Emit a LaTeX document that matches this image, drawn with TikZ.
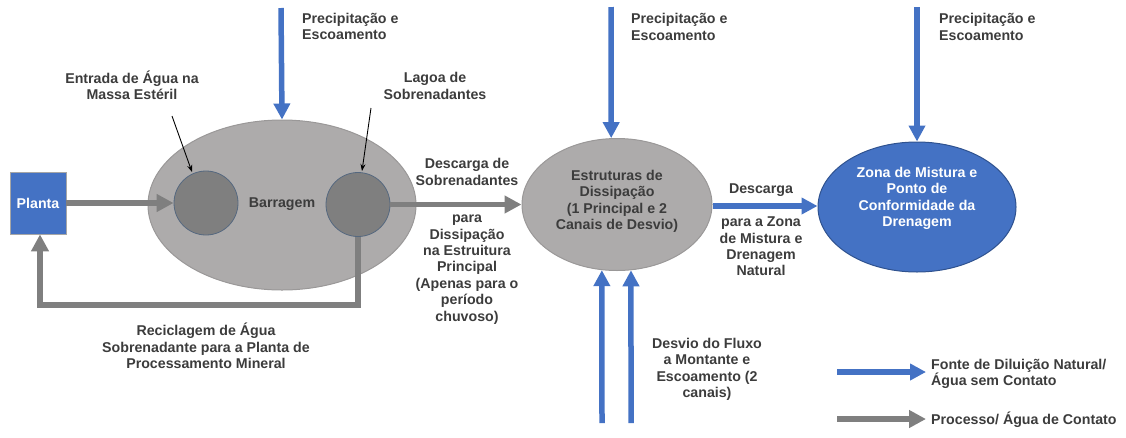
\documentclass[tikz,border=0pt]{standalone}
\usepackage{fontspec}
\setmainfont{Liberation Sans}
\usetikzlibrary{arrows.meta,shapes.geometric,calc}
\definecolor{bluefill}{HTML}{4472C4}
\definecolor{blueedge}{HTML}{2F528F}
\definecolor{grayfill}{HTML}{ADABAB}
\definecolor{grayedge}{HTML}{9A9898}
\definecolor{darkcirc}{HTML}{7F7F7F}
\definecolor{circedge}{HTML}{55687F}
\definecolor{arrowgray}{HTML}{7F7F7F}
\definecolor{txt}{HTML}{3C3C3C}
\tikzset{
  lbl/.style={font=\fontsize{14.2}{16.4}\selectfont\bfseries, text=txt, align=center, inner sep=0pt},
  lblw/.style={lbl, text=white},
  bigell/.style={ellipse, draw=grayedge, fill=grayfill, line width=1pt, inner sep=0pt},
  pond/.style={circle, draw=circedge, fill=darkcirc, line width=0.8pt, minimum size=64pt, inner sep=0pt},
  bluearrow/.style={draw=bluefill, line width=5.5pt, -{Triangle[length=16pt,width=16pt]}},
  grayarrow/.style={draw=arrowgray, line width=5.5pt, -{Triangle[length=17pt,width=17pt]}},
  pointer/.style={draw=black, line width=0.9pt, -{Stealth[length=7pt,width=5pt]}},
}
\begin{document}
\begin{tikzpicture}[x=1pt,y=-1pt]
\useasboundingbox (0,0) rectangle (1126,437);
% main shapes
\node[bigell, minimum width=268pt, minimum height=170pt] (barr) at (282,205) {};
\node[bigell, minimum width=190pt, minimum height=132pt] (diss) at (617,204.5) {};
\node[ellipse, draw=blueedge, fill=bluefill, line width=1pt, minimum width=198pt, minimum height=130pt, inner sep=0pt] (zona) at (917,207) {};
\node[pond] (lc) at (206,203) {};
\node[pond] (rc) at (358,204.5) {};
\node[draw=gray!70, fill=bluefill, line width=0.8pt, minimum width=56pt, minimum height=62pt, inner sep=0pt, lblw] (planta) at (38,203) {Planta};
% texts in shapes
\node[lbl] (barrtxt) at (282,204) {Barragem};
\node[lbl] (disstxt) at (617,201.5) {Estruturas de\\Dissipação\\(1 Principal e 2\\Canais de Desvio)};
\node[lblw] (zonatxt) at (917,198.5) {Zona de Mistura e\\Ponto de\\Conformidade da\\Drenagem};
% labels
\node[lbl] (entr) at (132,85.5) {Entrada de Água na\\Massa Estéril};
\node[lbl] (lagoa) at (435,86) {Lagoa de\\Sobrenadantes};
\node[lbl, anchor=west, align=left] (prec1) at (302,26.5) {Precipitação e\\Escoamento};
\node[lbl, anchor=west, align=left] (prec2) at (631,27) {Precipitação e\\Escoamento};
\node[lbl, anchor=west, align=left] (prec3) at (939,27) {Precipitação e\\Escoamento};
\node[lbl] (desc1) at (467,172) {Descarga de\\Sobrenadantes};
\node[lbl] (desc2) at (467,269.5) {para\\Dissipação\\na Estruitura\\Principal\\(Apenas para o\\período\\chuvoso)};
\node[lbl] (desc3) at (761,190) {Descarga};
\node[lbl] (desc4) at (761,246.5) {para a Zona\\de Mistura e\\Drenagem\\Natural};
\node[lbl] (recic) at (206,346) {Reciclagem de Água\\Sobrenadante para a Planta de\\Processamento Mineral};
\node[lbl] (desvio) at (707,369.5) {Desvio do Fluxo\\a Montante e\\Escoamento (2\\canais)};
\node[lbl, anchor=west, align=left] (leg1) at (931,374) {Fonte de Diluição Natural/\\Água sem Contato};
\node[lbl, anchor=west, align=left] (leg2) at (931,420) {Processo/ Água de Contato};
% coordinates
\coordinate (p1) at (281,8);
\coordinate (p2) at (611,7);
\coordinate (p3) at (917,7);
\coordinate (b1) at (602,423);
\coordinate (b2) at (631,423);
\coordinate (loopA) at (358,305);
\coordinate (loopB) at (40,305);
\coordinate (entrS) at (172,116);
\coordinate (entrE) at (192,172);
\coordinate (lagS) at (371,108);
\coordinate (lagE) at (362,171);
\coordinate (lg1s) at (837,372);
\coordinate (lg1e) at (926,372);
\coordinate (lg2s) at (837,419);
\coordinate (lg2e) at (926,419);
% blue arrows
\draw[bluearrow] (p1) -- (barr.north);
\draw[bluearrow] (p2) -- (diss.95);
\draw[bluearrow] (p3) -- (zona.north);
\draw[bluearrow] (b1) -- (diss.257);
\draw[bluearrow] (b2) -- (diss.282);
\draw[bluearrow] (diss.east |- 0,206) -- (zona.west |- 0,206);
% gray arrows
\draw[grayarrow] (planta.east) -- (lc.west);
\draw[grayarrow] (rc.east) -- (diss.west);
\draw[grayarrow] (rc.south) -- (loopA) -- (loopB) -- (planta.south -| loopB);
% pointers
\draw[pointer] (entrS) -- (entrE);
\draw[pointer] (lagS) -- (lagE);
% legend
\draw[bluearrow] (lg1s) -- (lg1e);
\draw[grayarrow] (lg2s) -- (lg2e);
\end{tikzpicture}
\end{document}
